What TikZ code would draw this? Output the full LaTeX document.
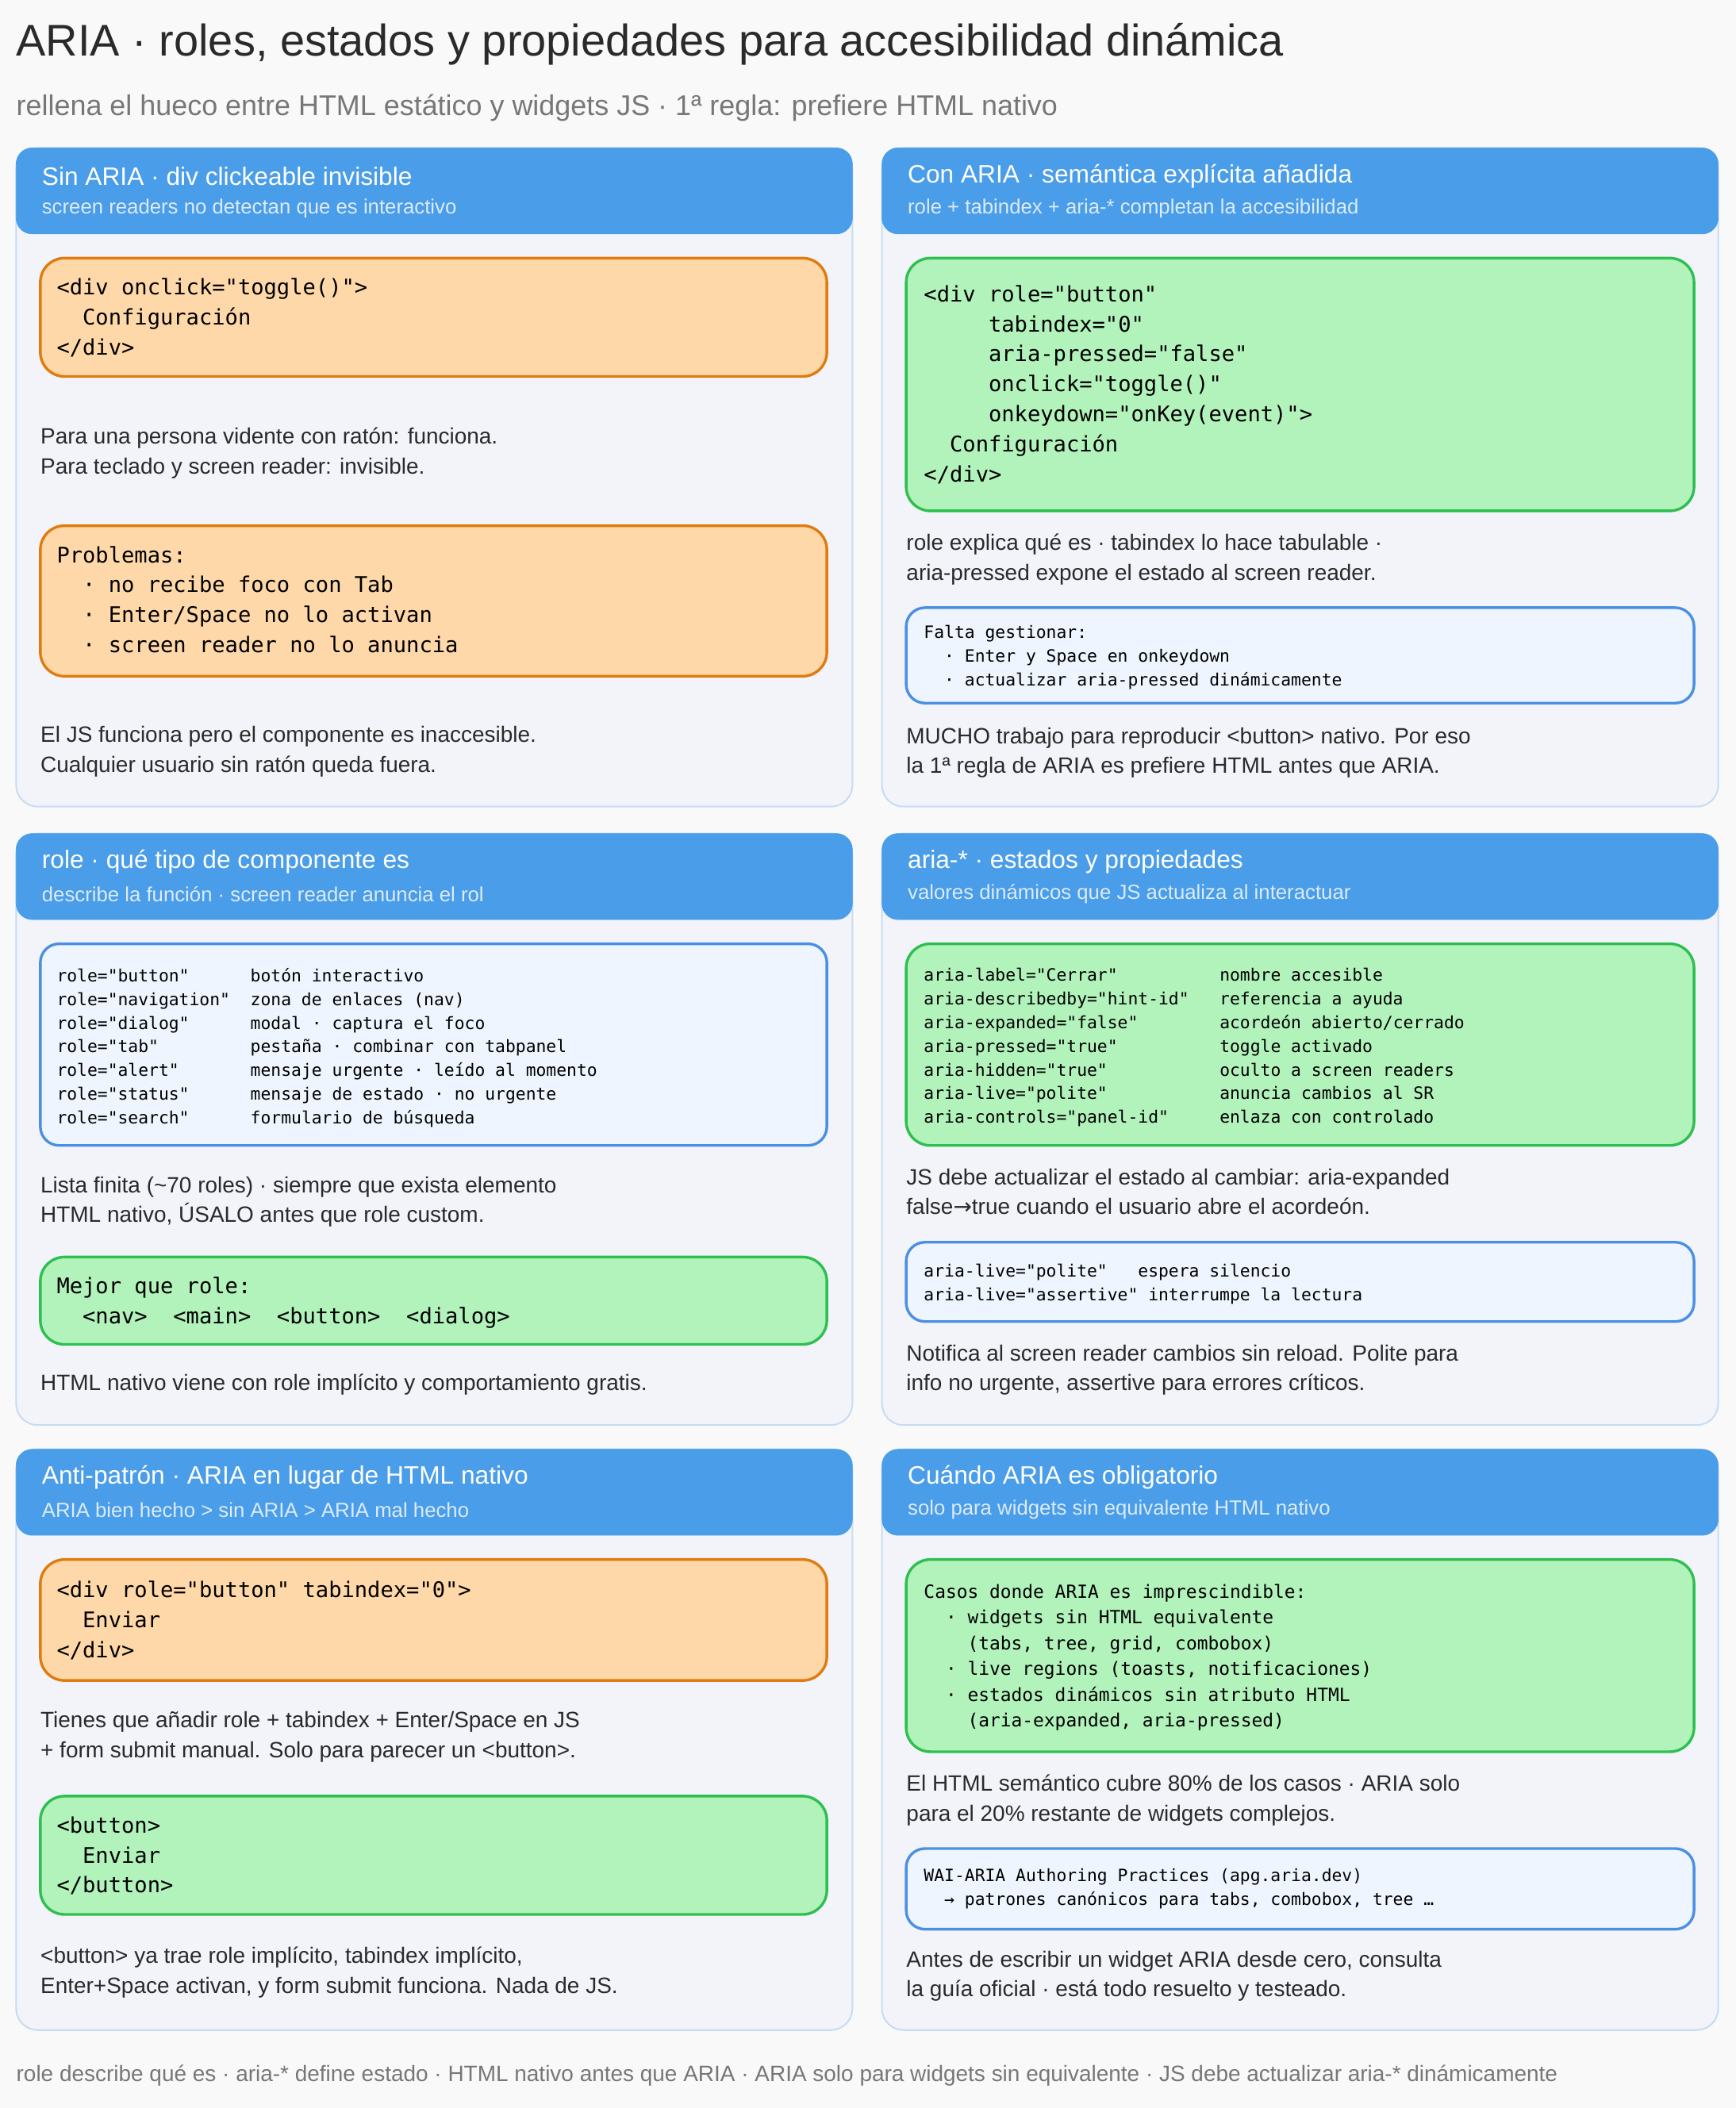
\documentclass[tikz,border=0pt]{standalone}
\usepackage{fontspec}
\setmainfont{Liberation Sans}
\newfontfamily\codef{DejaVu Sans Mono}
\newfontfamily\arrf{DejaVu Sans}
\definecolor{bg}{HTML}{F9F9F9}
\definecolor{hdr}{HTML}{4A9DE8}
\definecolor{pan}{HTML}{F2F4FA}
\definecolor{panb}{HTML}{C8DCF2}
\definecolor{orf}{HTML}{FED8A8}
\definecolor{orb}{HTML}{E07B10}
\definecolor{grf}{HTML}{B2F2BB}
\definecolor{grb}{HTML}{2FBF50}
\definecolor{blf}{HTML}{EEF5FF}
\definecolor{blb}{HTML}{4A90E2}
\definecolor{txt}{HTML}{2A2A2A}
\definecolor{gr}{HTML}{777777}
\definecolor{hsub}{HTML}{DCEBFB}
\tikzset{
 x=1pt,y=-1pt,
 panel/.style={fill=pan,draw=panb,line width=1.2pt,rounded corners=16pt},
 head/.style={fill=hdr,draw=hdr,rounded corners=12pt},
 obox/.style={fill=orf,draw=orb,line width=2pt,rounded corners=18pt},
 gbox/.style={fill=grf,draw=grb,line width=2pt,rounded corners=18pt},
 bbox/.style={fill=blf,draw=blb,line width=2pt,rounded corners=14pt},
 ht/.style={anchor=west,inner sep=0,text=white,font=\fontsize{18.7}{22}\selectfont},
 hs/.style={anchor=west,inner sep=0,text=hsub,font=\fontsize{15.2}{17}\selectfont},
 para/.style={anchor=north west,inner sep=0,align=left,text=txt,font=\fontsize{16.5}{22.2}\selectfont},
 code/.style={anchor=north west,inner sep=0,align=left,text=black,font=\codef\fontsize{16}{22.3}\selectfont},
 scode/.style={anchor=north west,inner sep=0,align=left,text=black,font=\codef\fontsize{12.6}{17.6}\selectfont},
}
\newcommand{\pnl}[6]{%
 \path[panel] (#1,#2) rectangle (#1+622,#3);
 \path[head] (#1,#2) rectangle (#1+622,#2+64);
 \node[ht] (#4) at (#1+19,#2+21) {#5};
 \node[hs] (#4s) at (#1+19,#2+45) {#6};}
\begin{document}
\begin{tikzpicture}
\path[fill=bg] (0,0) rectangle (1291,1568);
\useasboundingbox (0,0) rectangle (1291,1568);
\node[anchor=west,inner sep=0,text=txt,font=\fontsize{33}{36}\selectfont] (title) at (12,33) {ARIA · roles, estados y propiedades para accesibilidad dinámica};
\node[anchor=west,inner sep=0,text=gr,font=\fontsize{21.2}{24}\selectfont] (sub) at (12,80) {rellena el hueco entre HTML estático y widgets JS · 1ª regla: prefiere HTML nativo};

% panel 1
\pnl{12}{110}{600}{p1}{Sin ARIA · div clickeable invisible}{screen readers no detectan que es interactivo}
\path[obox] (30,192) rectangle (615,280);
\node[code] (c1) at (42,207) {<div onclick="toggle()">\\~~Configuración\\</div>};
\node[para] (t1) at (30,318) {Para una persona vidente con ratón: funciona.\\Para teclado y screen reader: invisible.};
\path[obox] (30,391) rectangle (615,503);
\node[code] (c2) at (42,406) {Problemas:\\~~· no recibe foco con Tab\\~~· Enter/Space no lo activan\\~~· screen reader no lo anuncia};
\node[para] (t2) at (30,540) {El JS funciona pero el componente es inaccesible.\\Cualquier usuario sin ratón queda fuera.};

% panel 2
\pnl{656}{110}{600}{p2}{Con ARIA · semántica explícita añadida}{role + tabindex + aria-* completan la accesibilidad}
\path[gbox] (674,192) rectangle (1260,380);
\node[code] (c3) at (687,212) {<div role="button"\\~~~~~tabindex="0"\\~~~~~aria-pressed="false"\\~~~~~onclick="toggle()"\\~~~~~onkeydown="onKey(event)">\\~~Configuración\\</div>};
\node[para] (t3) at (674,397) {role explica qué es · tabindex lo hace tabulable ·\\aria-pressed expone el estado al screen reader.};
\path[bbox] (674,452) rectangle (1260,523);
\node[scode] (c4) at (687,465) {Falta gestionar:\\~~· Enter y Space en onkeydown\\~~· actualizar aria-pressed dinámicamente};
\node[para] (t4) at (674,541) {MUCHO trabajo para reproducir <button> nativo. Por eso\\la 1ª regla de ARIA es prefiere HTML antes que ARIA.};

% panel 3
\pnl{12}{620}{1060}{p3}{role · qué tipo de componente es}{describe la función · screen reader anuncia el rol}
\path[bbox] (30,702) rectangle (615,852);
\node[scode] (c5) at (42,720) {role="button"~~~~~~botón interactivo\\role="navigation"~~zona de enlaces (nav)\\role="dialog"~~~~~~modal · captura el foco\\role="tab"~~~~~~~~~pestaña · combinar con tabpanel\\role="alert"~~~~~~~mensaje urgente · leído al momento\\role="status"~~~~~~mensaje de estado · no urgente\\role="search"~~~~~~formulario de búsqueda};
\node[para] (t5) at (30,875) {Lista finita (\textasciitilde70 roles) · siempre que exista elemento\\HTML nativo, ÚSALO antes que role custom.};
\path[gbox] (30,935) rectangle (615,1000);
\node[code] (c6) at (42,950) {Mejor que role:\\~~<nav>~~<main>~~<button>~~<dialog>};
\node[para] (t6) at (30,1022) {HTML nativo viene con role implícito y comportamiento gratis.};

% panel 4
\pnl{656}{620}{1060}{p4}{aria-* · estados y propiedades}{valores dinámicos que JS actualiza al interactuar}
\path[gbox] (674,702) rectangle (1260,852);
\node[scode] (c7) at (687,720) {aria-label="Cerrar"~~~~~~~~~~nombre accesible\\aria-describedby="hint-id"~~~referencia a ayuda\\aria-expanded="false"~~~~~~~~acordeón abierto/cerrado\\aria-pressed="true"~~~~~~~~~~toggle activado\\aria-hidden="true"~~~~~~~~~~~oculto a screen readers\\aria-live="polite"~~~~~~~~~~~anuncia cambios al SR\\aria-controls="panel-id"~~~~~enlaza con controlado};
\node[para] (t7) at (674,869) {JS debe actualizar el estado al cambiar: aria-expanded\\false{\arrf →}true cuando el usuario abre el acordeón.};
\path[bbox] (674,924) rectangle (1260,983);
\node[scode] (c8) at (687,940) {aria-live="polite"~~~espera silencio\\aria-live="assertive" interrumpe la lectura};
\node[para] (t8) at (674,1000) {Notifica al screen reader cambios sin reload. Polite para\\info no urgente, assertive para errores críticos.};

% panel 5
\pnl{12}{1078}{1510}{p5}{Anti-patrón · ARIA en lugar de HTML nativo}{ARIA bien hecho > sin ARIA > ARIA mal hecho}
\path[obox] (30,1160) rectangle (615,1250);
\node[code] (c9) at (42,1176) {<div role="button" tabindex="0">\\~~Enviar\\</div>};
\node[para] (t9) at (30,1273) {Tienes que añadir role + tabindex + Enter/Space en JS\\+ form submit manual. Solo para parecer un <button>.};
\path[gbox] (30,1336) rectangle (615,1424);
\node[code] (c10) at (42,1351) {<button>\\~~Enviar\\</button>};
\node[para] (t10) at (30,1448) {<button> ya trae role implícito, tabindex implícito,\\Enter+Space activan, y form submit funciona. Nada de JS.};

% panel 6
\pnl{656}{1078}{1510}{p6}{Cuándo ARIA es obligatorio}{solo para widgets sin equivalente HTML nativo}
\path[gbox] (674,1160) rectangle (1260,1303);
\node[code,font=\codef\fontsize{13.5}{19.2}\selectfont] (c11) at (687,1178) {Casos donde ARIA es imprescindible:\\~~· widgets sin HTML equivalente\\~~~~(tabs, tree, grid, combobox)\\~~· live regions (toasts, notificaciones)\\~~· estados dinámicos sin atributo HTML\\~~~~(aria-expanded, aria-pressed)};
\node[para] (t11) at (674,1320) {El HTML semántico cubre 80\% de los casos · ARIA solo\\para el 20\% restante de widgets complejos.};
\path[bbox] (674,1375) rectangle (1260,1435);
\node[scode] (c12) at (687,1390) {WAI-ARIA Authoring Practices (apg.aria.dev)\\~~→ patrones canónicos para tabs, combobox, tree …};
\node[para] (t12) at (674,1451) {Antes de escribir un widget ARIA desde cero, consulta\\la guía oficial · está todo resuelto y testeado.};

\node[anchor=west,inner sep=0,text=gr,font=\fontsize{16.5}{20}\selectfont] (foot) at (12,1544) {role describe qué es · aria-* define estado · HTML nativo antes que ARIA · ARIA solo para widgets sin equivalente · JS debe actualizar aria-* dinámicamente};
\end{tikzpicture}
\end{document}
